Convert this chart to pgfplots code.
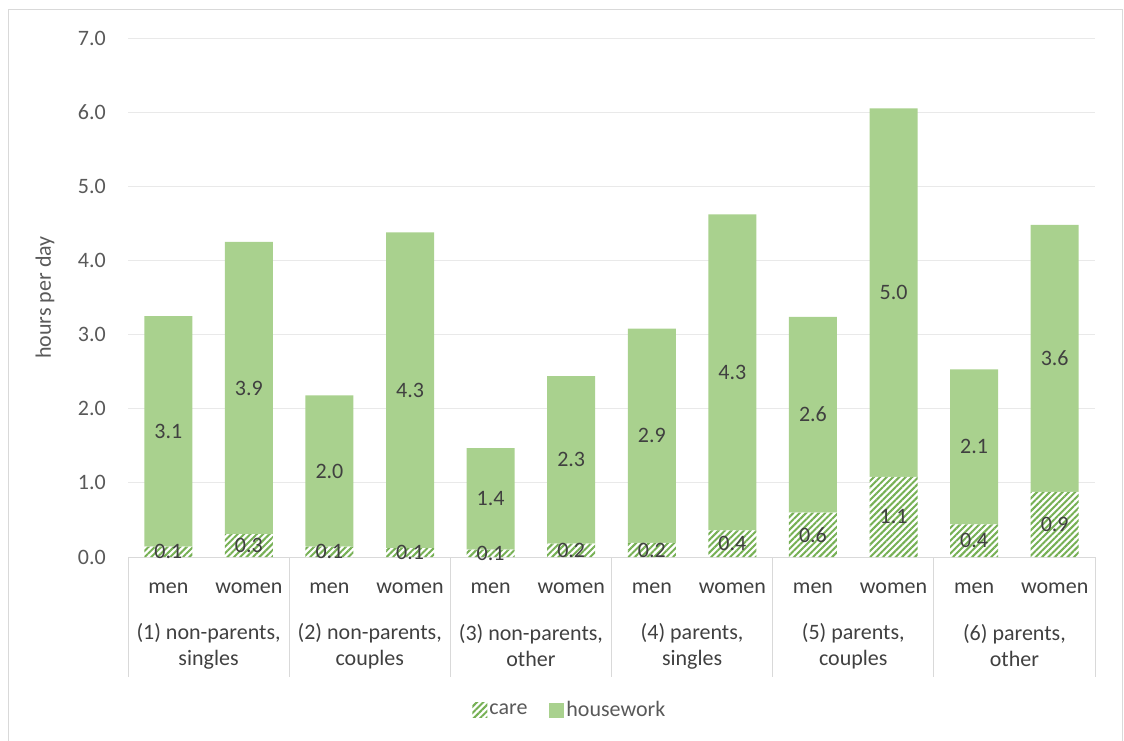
\documentclass[border=0pt]{standalone}
\usepackage{pgfplots}
\pgfplotsset{compat=1.18}
\usepackage{pgfplotstable}
\usepackage{fontspec}
\setmainfont{Carlito}
\usetikzlibrary{patterns.meta}
\definecolor{hwcol}{HTML}{A9D18E}
\definecolor{hatchcol}{HTML}{76B054}
\definecolor{gridcol}{HTML}{E9E9E9}
\definecolor{sepcol}{HTML}{D9D9D9}
\definecolor{txt}{HTML}{595959}
\definecolor{lab}{HTML}{404040}
\newcommand\f{\fontsize{22}{26}\selectfont}

\pgfplotstableread{
x care hw
0 0.14 3.11
1 0.31 3.94
2 0.14 2.04
3 0.12 4.26
4 0.10 1.37
5 0.18 2.26
6 0.19 2.89
7 0.36 4.26
8 0.60 2.64
9 1.08 4.97
10 0.44 2.09
11 0.88 3.60
}\datatable

\pgfplotsset{
  sqlegend/.style={legend image code/.code={\draw[##1,draw=none] (0pt,-7.5pt) rectangle (15pt,7.5pt);}},
  common/.style={
    at={(128pt,183pt)}, anchor=south west,
    scale only axis, width=967pt, height=519pt,
    xmin=-0.5, xmax=11.5, ymin=0, ymax=7,
    /pgf/number format/assume math mode=true,
  },
}

\begin{document}
\begin{tikzpicture}
\path[use as bounding box] (0,0) rectangle (1124pt,740pt);
\draw[sepcol, line width=1pt] (8.5pt,-20pt) rectangle (1122pt,730.5pt);
\begin{axis}[
  common,
  ybar stacked, bar width=48pt,
  clip=false,
  ytick={0,1,...,7},
  yticklabel style={/pgf/number format/fixed,/pgf/number format/fixed zerofill,/pgf/number format/precision=1,
    font=\f, text=txt, anchor=east, inner sep=0pt, xshift=-22pt},
  xtick={0,...,11},
  xticklabels={men,women,men,women,men,women,men,women,men,women,men,women},
  xticklabel style={font=\f, text=lab, anchor=base, inner sep=0pt, yshift=-36pt},
  major tick length=0pt,
  tick style={draw=none},
  ymajorgrids,
  major grid style={gridcol, line width=1pt},
  axis x line*=bottom,
  axis y line*=left,
  y axis line style={draw=none},
  x axis line style={sepcol, line width=1pt, -},
  ylabel={hours per day},
  every axis y label/.style={at={(axis description cs:-0.0858,0.5)}, rotate=90, anchor=center, font=\f, text=txt},
  legend style={at={(0.457,-0.295)}, anchor=center, draw=none, fill=none, legend columns=2,
    font=\f, text=txt, /tikz/every even column/.append style={column sep=20pt}},
]
\addplot[sqlegend, draw=none, fill=white,
  postaction={pattern={Lines[angle=45,distance=4.5pt,line width=2pt]}, pattern color=hatchcol}]
  table[x=x, y=care]{\datatable};
\addlegendentry{care}
\addplot[sqlegend, draw=none, fill=hwcol] table[x=x, y=hw]{\datatable};
\addlegendentry{housework}

\draw[sepcol, line width=1pt] (axis cs:-0.5,0) -- ++(0pt,-120pt);
\draw[sepcol, line width=1pt] (axis cs:1.5,0) -- ++(0pt,-120pt);
\draw[sepcol, line width=1pt] (axis cs:3.5,0) -- ++(0pt,-120pt);
\draw[sepcol, line width=1pt] (axis cs:5.5,0) -- ++(0pt,-120pt);
\draw[sepcol, line width=1pt] (axis cs:7.5,0) -- ++(0pt,-120pt);
\draw[sepcol, line width=1pt] (axis cs:9.5,0) -- ++(0pt,-120pt);
\draw[sepcol, line width=1pt] (axis cs:11.5,0) -- ++(0pt,-120pt);
\node[font=\f, text=lab, align=center, anchor=center, yshift=-89pt] at (axis cs:0.5,0) {(1) non-parents,\\singles};
\node[font=\f, text=lab, align=center, anchor=center, yshift=-89pt] at (axis cs:2.5,0) {(2) non-parents,\\couples};
\node[font=\f, text=lab, align=center, anchor=center, yshift=-89pt] at (axis cs:4.5,0) {(3) non-parents,\\other};
\node[font=\f, text=lab, align=center, anchor=center, yshift=-89pt] at (axis cs:6.5,0) {(4) parents,\\singles};
\node[font=\f, text=lab, align=center, anchor=center, yshift=-89pt] at (axis cs:8.5,0) {(5) parents,\\couples};
\node[font=\f, text=lab, align=center, anchor=center, yshift=-89pt] at (axis cs:10.5,0) {(6) parents,\\other};
\end{axis}

\begin{axis}[
  common, hide axis,
  nodes near coords={\pgfmathprintnumber[fixed,fixed zerofill,precision=1,assume math mode=true]{\pgfplotspointmeta}},
  every node near coord/.append style={anchor=center, font=\f, text=lab, inner sep=0pt},
]
\addplot[draw=none, mark=none, point meta=explicit] table[x=x, y expr={\thisrow{care}/2}, meta=care]{\datatable};
\addplot[draw=none, mark=none, point meta=explicit] table[x=x, y expr={\thisrow{care}+\thisrow{hw}/2}, meta=hw]{\datatable};
\end{axis}
\end{tikzpicture}
\end{document}
